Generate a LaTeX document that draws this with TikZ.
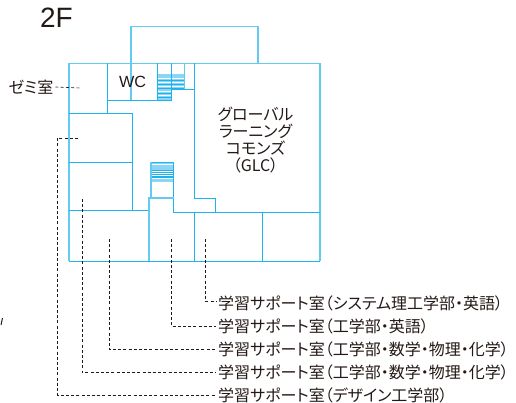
\documentclass[tikz,border=0pt]{standalone}
\usepackage{fontspec}
\setmainfont[RawFeature=+palt]{Noto Sans CJK JP}
\newfontfamily\latinfont{Liberation Sans}
\definecolor{wallblue}{HTML}{1DB3EC}
\definecolor{outerblue}{HTML}{63CBF3}
\definecolor{stairblue}{HTML}{8AD6F6}
\definecolor{inkgray}{HTML}{231815}
\tikzset{
	wall/.style={line width=0.9pt, color=wallblue},
	outerwall/.style={line width=1.4pt, color=outerblue},
	leader/.style={line width=0.6pt, color=inkgray, dash pattern=on 3pt off 2.2pt},
	roomlabel/.style={inner sep=0pt, font=\fontsize{16}{16.7}\selectfont, color=inkgray, align=center},
	sidelabel/.style={roomlabel, anchor=west},
	treadwhite/.style={line width=0.5pt, color=white},
	treadblue/.style={line width=0.5pt, color=wallblue},
}
\begin{document}
\begin{tikzpicture}[x=1pt, y=-1pt]
	\useasboundingbox (0, 0) rectangle (516, 403);
	%%%%% OUTLINE %%%%%
	\draw[outerwall] (131, 100) -- (131, 26.5) -- (258, 26.5) -- (258, 63.5);
	\draw[outerwall] (69, 261) -- (69, 63.5) -- (320, 63.5) -- (320, 261);
	\draw[wall] (69, 261) -- (320, 261);
	%%%%% STAIRS %%%%%
	\fill[stairblue] (157.5, 74) rectangle (184.5, 89.5);
	\fill[stairblue] (157.5, 89.5) rectangle (171.5, 100);
	\fill[stairblue] (151, 162.5) rectangle (173.5, 182.5);
	\foreach \y in {78, 82, 86, 91, 95}
		\draw[treadwhite] (157.5, \y) -- (171.5, \y);
	\foreach \y in {80, 84, 88, 93, 97}
		\draw[treadblue] (157.5, \y) -- (171.5, \y);
	\foreach \y in {78, 82, 86}
		\draw[treadwhite] (171.5, \y) -- (184.5, \y);
	\foreach \y in {80, 84, 88}
		\draw[treadblue] (171.5, \y) -- (184.5, \y);
	\fill[wallblue] (151, 170) rectangle (173.5, 179);
	\foreach \y in {164.5, 171, 173.3, 175.6, 178}
		\draw[treadwhite] (151, \y) -- (173.5, \y);
	%%%%% ROOMS %%%%%
	\draw[wall] (107.5, 63.5) -- (107.5, 113.5);
	\draw[wall] (107.5, 100) -- (171.5, 100);
	\draw[wall] (157.5, 63.5) -- (157.5, 100);
	\draw[wall] (171.5, 63.5) -- (171.5, 100);
	\draw[outerwall] (184.5, 63.5) -- (184.5, 89.5);
	\draw[wall] (171.5, 89.5) -- (194.5, 89.5);
	\draw[wall] (69, 113.5) -- (132.5, 113.5) -- (132.5, 210.5);
	\draw[wall] (69, 162.5) -- (132.5, 162.5);
	\draw[wall] (69, 210.5) -- (149, 210.5);
	\draw[wall] (194.5, 63.5) -- (194.5, 198) -- (215.5, 198) -- (215.5, 212);
	\draw[wall] (151, 162.5) -- (173.5, 162.5);
	\draw[outerwall] (151, 162.5) -- (151, 198);
	\draw[wall] (173.5, 162.5) -- (173.5, 212) -- (320, 212);
	\draw[outerwall] (149, 261) -- (149, 198) -- (173.5, 198);
	\draw[wall] (194.5, 212) -- (194.5, 261);
	\draw[wall] (262.5, 212) -- (262.5, 261);
	%%%%% TEXT %%%%%
	\node[roomlabel, font=\latinfont\fontsize{28}{28}\selectfont] (floor) at (56.5, 17.5) {2F};
	\node[roomlabel, font=\latinfont\fontsize{16.2}{16.2}\selectfont] (wc) at (132.5, 82) {WC};
	\node[roomlabel] (glc) at (255.5, 140) {グローバル\\ラーニング\\コモンズ\\（GLC）};
	\node[sidelabel, anchor=east] (seminar) at (53.5, 87) {ゼミ室};
	\node[sidelabel] (sysroom) at (218, 303) {学習サポート室（システム理工学部・英語）};
	\node[sidelabel] (engroom) at (218, 326.5) {学習サポート室（工学部・英語）};
	\node[sidelabel] (mathroomb) at (218, 349.5) {学習サポート室（工学部・数学・物理・化学）};
	\node[sidelabel] (mathrooma) at (218, 372.5) {学習サポート室（工学部・数学・物理・化学）};
	\node[sidelabel] (designroom) at (218, 395) {学習サポート室（デザイン工学部）};
	%%%%% LEADERS %%%%%
	\coordinate (seminarend) at (80, 88);
	\coordinate (sysstart) at (205, 239);
	\coordinate (engstart) at (171.7, 239);
	\coordinate (mathbstart) at (109, 239);
	\coordinate (mathastart) at (82, 199);
	\coordinate (designstart) at (78, 138);
	\draw[leader] ([xshift=2pt]seminar.east) -- (seminarend);
	\draw[leader] (sysstart) |- ([xshift=-2pt, yshift=2pt]sysroom.west);
	\draw[leader] (engstart) |- ([xshift=-2pt]engroom.west);
	\draw[leader] (mathbstart) |- ([xshift=-2pt]mathroomb.west);
	\draw[leader] (mathastart) |- ([xshift=-2pt]mathrooma.west);
	\draw[leader] (designstart) -- (57.5, 138) |- ([xshift=-2pt]designroom.west);
	%%%%% EDGE MARK %%%%%
	\draw[line width=1pt, color=inkgray] (2.5, 318) -- (1, 325);
\end{tikzpicture}
\end{document}
